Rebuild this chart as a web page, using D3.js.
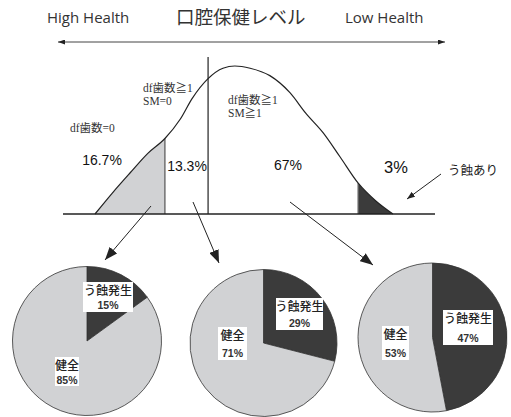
<!DOCTYPE html>
<html><head><meta charset="utf-8">
<script src="https://cdn.jsdelivr.net/npm/d3@7/dist/d3.min.js"></script>
<style>
html,body{margin:0;padding:0;background:#fff;}
svg{display:block;}
</style></head>
<body><svg id="c" width="511" height="417"></svg>
<script>
// ---- data ----
const axisLabels = ["High Health", "口腔保健レベル", "Low Health"];
const curveLevel   = [8.6, 13.2, 18.0, 22.8, 27.4, 31.5, 34.7, 39.0, 43.0, 46.2, 50.3, 55.6, 61.0, 65.3, 69.9, 74.5, 79.3, 84.1, 88.7];
const curveDensity = [0, 0.14, 0.277, 0.41, 0.51, 0.64, 0.78, 0.915, 0.985, 1.0, 0.985, 0.935, 0.82, 0.68, 0.55, 0.385, 0.21, 0.088, 0];
const groupNames = ["df歯数=0", "df歯数≧1\nSM=0", "df歯数≧1\nSM≧1", "う蝕あり"];
const groupShares = ["16.7%", "13.3%", "67%", "3%"];
const groupBounds = [8.6, 27.4, 39.0, 79.3, 88.7];
const pieCategories = ["う蝕発生", "健全"];
const pieCaries  = [15, 29, 47];
const pieHealthy = [85, 71, 53];

// ---- setup ----
const svg = d3.select("#c");
const x = d3.scaleLinear().domain([0, 100]).range([63, 435]);
const y = d3.scaleLinear().domain([0, 1]).range([214, 66]);
const LIGHT = "#d1d2d4", DARK = "#3b3b3b", INK = "#222";
const sans = "'Open Sans','Noto Sans CJK JP',sans-serif";
const serif = "'Liberation Serif','DejaVu Serif','Noto Sans CJK JP',serif";

const defs = svg.append("defs");
function marker(id, w, h) {
  defs.append("marker").attr("id", id).attr("viewBox", `0 0 ${w} ${h}`)
    .attr("refX", w).attr("refY", h / 2).attr("markerWidth", w).attr("markerHeight", h)
    .attr("markerUnits", "userSpaceOnUse").attr("orient", "auto-start-reverse")
    .append("path").attr("d", `M0,0L${w},${h/2}L0,${h}Z`).attr("fill", INK);
}
marker("big", 13, 10);
marker("small", 8, 6);
marker("tiny", 7, 5);

// ---- top header ----
const hdr = svg.append("g").attr("fill", "#333").attr("font-family", sans);
hdr.append("text").attr("x", 47).attr("y", 23).attr("font-size", 15).text(axisLabels[0]);
hdr.append("text").attr("x", 176).attr("y", 24).attr("font-size", 18.5)
  .attr("font-family", "'Noto Sans CJK JP',sans-serif").text(axisLabels[1]);
hdr.append("text").attr("x", 345).attr("y", 23).attr("font-size", 15).text(axisLabels[2]);
svg.append("line").attr("x1", 58).attr("x2", 445).attr("y1", 42).attr("y2", 42)
  .attr("stroke", "#444").attr("stroke-width", 1)
  .attr("marker-start", "url(#tiny)").attr("marker-end", "url(#tiny)");

// ---- distribution ----
const pts = curveLevel.map((l, i) => [l, curveDensity[i]]);
const curve = d3.curveMonotoneX;
const area = d3.area().x(d => x(d[0])).y0(y(0)).y1(d => y(d[1])).curve(curve);
const line = d3.line().x(d => x(d[0])).y(d => y(d[1])).curve(curve);

function clip(id, a, b) {
  defs.append("clipPath").attr("id", id).append("rect")
    .attr("x", x(a)).attr("width", x(b) - x(a)).attr("y", 0).attr("height", 300);
}
clip("cl1", groupBounds[0], groupBounds[1]);
clip("cl4", groupBounds[3], groupBounds[4]);
svg.append("path").datum(pts).attr("d", area).attr("fill", LIGHT).attr("clip-path", "url(#cl1)");
svg.append("path").datum(pts).attr("d", area).attr("fill", DARK).attr("clip-path", "url(#cl4)");

// divider edges
const interp = l => {
  for (let i = 1; i < pts.length; i++) if (pts[i][0] >= l) {
    const t = (l - pts[i-1][0]) / (pts[i][0] - pts[i-1][0]);
    return pts[i-1][1] + t * (pts[i][1] - pts[i-1][1]);
  }
  return 0;
};
svg.append("line").attr("x1", x(groupBounds[1])).attr("x2", x(groupBounds[1]))
  .attr("y1", y(0)).attr("y2", y(interp(groupBounds[1]))).attr("stroke", "#555").attr("stroke-width", 1.2);
svg.append("line").attr("x1", x(groupBounds[3])).attr("x2", x(groupBounds[3]))
  .attr("y1", y(0)).attr("y2", y(interp(groupBounds[3]))).attr("stroke", "#777").attr("stroke-width", 1.2);
svg.append("line").attr("x1", x(groupBounds[2])).attr("x2", x(groupBounds[2]))
  .attr("y1", y(0)).attr("y2", y(1.06)).attr("stroke", INK).attr("stroke-width", 1.2);

svg.append("path").datum(pts).attr("d", line).attr("fill", "none").attr("stroke", INK).attr("stroke-width", 1.2);
svg.append("line").attr("x1", x(0)).attr("x2", x(100)).attr("y1", y(0)).attr("y2", y(0))
  .attr("stroke", INK).attr("stroke-width", 1.3);

// group name labels (serif)
const nameLayout = [[70, 132], [143, 92], [228, 104]];
nameLayout.forEach(([lx, ly], i) => {
  const t = svg.append("text").attr("x", lx).attr("y", ly).attr("font-family", serif)
    .attr("font-size", 11.5).attr("fill", "#333");
  groupNames[i].split("\n").forEach((s, k) => t.append("tspan").attr("x", lx).attr("dy", k ? 13 : 0).text(s));
});
svg.append("text").attr("x", 448).attr("y", 175).attr("font-family", "'Noto Sans CJK JP',sans-serif")
  .attr("font-size", 12.5).attr("fill", "#222").text(groupNames[3]);
svg.append("line").attr("x1", 441).attr("y1", 174).attr("x2", 407).attr("y2", 199)
  .attr("stroke", INK).attr("stroke-width", 1).attr("marker-end", "url(#small)");

// share labels
const shareLayout = [[102, 165, 14], [187, 171, 14], [288, 170, 14], [396, 173, 16.5]];
shareLayout.forEach(([sx, sy, fs], i) => {
  svg.append("text").attr("x", sx).attr("y", sy).attr("text-anchor", "middle")
    .attr("font-family", "'Liberation Sans',Arial,sans-serif").attr("font-size", fs)
    .attr("fill", "#111").text(groupShares[i]);
});

// ---- pies ----
const pies = [
  {cx: 87, cy: 341, r: 74.5, from: [151, 206], to: [105, 260],
   boxes: [[83, 282, 50, 30], [55, 357, 24, 29]]},
  {cx: 263.5, cy: 343, r: 73.5, from: [193, 202], to: [219, 263],
   boxes: [[276, 298, 47, 32], [218, 327, 29, 33]]},
  {cx: 432.5, cy: 337.5, r: 74.5, from: [290, 202], to: [373, 265],
   boxes: [[443, 310, 50, 35], [382, 326, 27, 34]]}
];
const pieGen = d3.pie().sort(null).value(d => d.v);
const arc = d3.arc().innerRadius(0);
pies.forEach((p, i) => {
  svg.append("line").attr("x1", p.from[0]).attr("y1", p.from[1]).attr("x2", p.to[0]).attr("y2", p.to[1])
    .attr("stroke", INK).attr("stroke-width", 1).attr("marker-end", "url(#big)");
  const g = svg.append("g").attr("transform", `translate(${p.cx},${p.cy})`);
  const data = [{k: pieCategories[0], v: pieCaries[i]}, {k: pieCategories[1], v: pieHealthy[i]}];
  g.selectAll("path").data(pieGen(data)).join("path")
    .attr("d", arc.outerRadius(p.r))
    .attr("fill", (d, j) => j === 0 ? DARK : LIGHT)
    .attr("stroke", "#333").attr("stroke-width", 0.8);
  data.forEach((d, j) => {
    const [bx, by, bw, bh] = p.boxes[j];
    svg.append("rect").attr("x", bx).attr("y", by).attr("width", bw).attr("height", bh).attr("fill", "#fff");
    const cx = bx + bw / 2;
    const ly = by + 12.5;
    const py = Math.max(ly + 14.5, by + bh - 3);
    svg.append("text").attr("x", cx).attr("y", ly).attr("text-anchor", "middle")
      .attr("font-family", "'Noto Sans CJK JP',sans-serif").attr("font-weight", 500)
      .attr("font-size", 12).attr("fill", "#222").text(d.k);
    svg.append("text").attr("x", cx).attr("y", py).attr("text-anchor", "middle")
      .attr("font-family", "'Liberation Sans',Arial,sans-serif").attr("font-weight", "bold")
      .attr("font-size", 10.5).attr("fill", "#333").text(d.v + "%");
  });
});
</script></body></html>
